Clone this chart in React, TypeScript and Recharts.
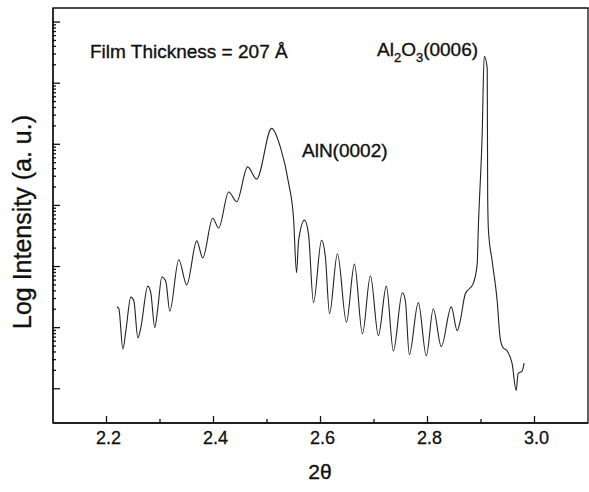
import { LineChart, Line, XAxis, YAxis, ReferenceArea } from "recharts";

// 2θ positions of the scan (deg)
const twoTheta = [
  2.2194, 2.2231, 2.2306, 2.2362, 2.2455, 2.2511, 2.2586, 2.2642, 2.2772, 2.2828,
  2.2903, 2.2959, 2.3034, 2.3108, 2.3183, 2.3351, 2.35, 2.3687, 2.3799, 2.3985,
  2.4097, 2.4284, 2.4433, 2.4638, 2.4806, 2.5086, 2.5254, 2.5403, 2.5496, 2.5552,
  2.559, 2.5701, 2.5776, 2.5869, 2.6019, 2.6093, 2.6168, 2.6317, 2.6485, 2.6634,
  2.6784, 2.6933, 2.7082, 2.7231, 2.7362, 2.753, 2.7586, 2.766, 2.7828, 2.7978,
  2.8108, 2.8257, 2.8444, 2.8556, 2.8612, 2.8705, 2.8854, 2.8929, 2.8948, 2.9022,
  2.906, 2.9116, 2.9125, 2.914, 2.9209, 2.9302, 2.9358, 2.9414, 2.9489, 2.9582,
  2.9657, 2.9694, 2.9769, 2.9806,
];

// log10 of intensity (a. u.)
const logIntensity = [
  1.34, 1.31, 0.65, 0.95, 1.5, 1.44, 0.83, 1.0, 1.68, 1.57,
  1.0, 1.32, 1.83, 1.76, 1.27, 2.11, 1.7, 2.42, 2.14, 2.79,
  2.63, 3.22, 3.06, 3.63, 3.43, 4.26, 3.94, 3.37, 2.79, 1.9,
  2.42, 2.76, 2.53, 1.41, 2.43, 2.14, 1.23, 2.21, 1.09, 2.04,
  0.9, 1.85, 0.87, 1.68, 0.62, 1.57, 1.44, 0.56, 1.41, 0.54,
  1.31, 0.69, 1.34, 0.95, 1.11, 1.55, 1.72, 2.04, 2.58, 4.17,
  5.44, 5.25, 3.12, 2.58, 2.09, 1.44, 0.83, 0.67, 0.62, 0.41,
  -0.03, 0.25, 0.29, 0.42,
];

const xTicks = [2.2, 2.3, 2.4, 2.5, 2.6, 2.7, 2.8, 2.9, 3.0];
const xLabelled = [2.2, 2.4, 2.6, 2.8, 3.0];
const yDecades = [0, 1, 2, 3, 4, 5, 6];

const data = twoTheta.map((x, i) => ({ x, y: logIntensity[i] }));

const W = 589;
const H = 492;
const M = { top: 8, right: 1, bottom: 39, left: 52 };
const AXIS_Y = H - M.bottom - 30;
const FONT = "Arial, 'Liberation Sans', sans-serif";

const yTicks: number[] = [];
yDecades.forEach((d) => {
  yTicks.push(d);
  if (d < 6) for (let k = 2; k < 10; k++) yTicks.push(d + Math.log10(k));
});

function XTick(props: any) {
  const { x, payload } = props;
  const major = xLabelled.some((v) => Math.abs(v - payload.value) < 1e-6);
  return (
    <g>
      <line x1={x} x2={x} y1={AXIS_Y} y2={AXIS_Y - (major ? 7 : 4)} stroke="#111" strokeWidth={1.3} />
      {major && (
        <text x={x + 2} y={AXIS_Y + 21} textAnchor="middle" fontSize={18} fontFamily={FONT} fill="#111" stroke="#111" strokeWidth={0.3}>
          {payload.value.toFixed(1)}
        </text>
      )}
    </g>
  );
}

function YTick(props: any) {
  const { y, payload } = props;
  const major = Number.isInteger(payload.value);
  return <line x1={M.left} x2={M.left + (major ? 8 : 4)} y1={y} y2={y} stroke="#111" strokeWidth={1.3} />;
}

export default function App() {
  return (
    <div style={{ position: "absolute", left: 0, top: 0, width: W, height: H, background: "#fff" }}>
      <LineChart width={W} height={H} data={data} margin={M}>
        <XAxis
          dataKey="x"
          type="number"
          domain={[2.1, 3.1]}
          ticks={xTicks}
          height={30}
          tickLine={false}
          axisLine={{ stroke: "#111", strokeWidth: 1.3 }}
          tick={<XTick />}
          interval={0}
        />
        <YAxis
          type="number"
          domain={[-0.56, 6.23]}
          ticks={yTicks}
          width={1}
          tickLine={false}
          axisLine={{ stroke: "#111", strokeWidth: 1.3 }}
          tick={<YTick />}
          interval={0}
        />
        <ReferenceArea x1={2.1} x2={3.1} y1={-0.56} y2={6.23} fill="none" stroke="#111" strokeWidth={1.3} />
        <Line
          type="monotone"
          dataKey="y"
          stroke="#222"
          strokeWidth={1.1}
          dot={false}
          isAnimationActive={false}
        />
      </LineChart>
      <svg width={W} height={H} style={{ position: "absolute", left: 0, top: 0, pointerEvents: "none" }}>
        <g fontFamily={FONT} fill="#111" stroke="#111" strokeWidth={0.35}>
          <text x={90} y={58} fontSize={19}>Film Thickness = 207 Å</text>
          <text x={302} y={157} fontSize={19}>AlN(0002)</text>
          <text x={377} y={56} fontSize={19}>
            Al<tspan fontSize={13} dy={6}>2</tspan>
            <tspan dy={-6}>O</tspan>
            <tspan fontSize={13} dy={6}>3</tspan>
            <tspan dy={-6}>(0006)</tspan>
          </text>
          <text x={320} y={479} fontSize={21} textAnchor="middle">2θ</text>
          <text
            x={0}
            y={0}
            fontSize={25}
            textAnchor="middle"
            transform="translate(31 222) rotate(-90)"
          >
            Log Intensity (a. u.)
          </text>
        </g>
      </svg>
    </div>
  );
}
